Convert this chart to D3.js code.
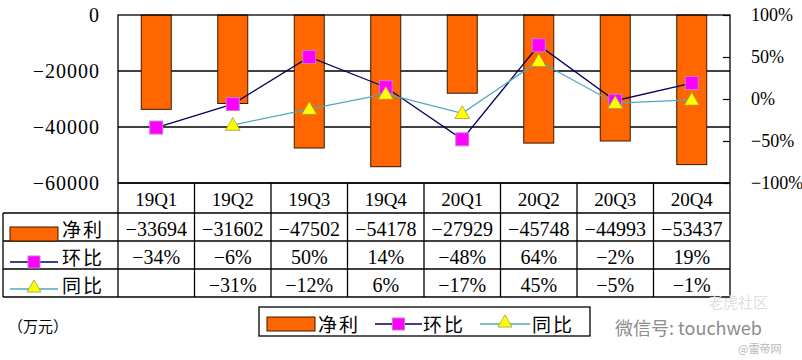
<!DOCTYPE html>
<html><head><meta charset="utf-8">
<script src="https://cdn.jsdelivr.net/npm/d3@7/dist/d3.min.js"></script>
<style>
html,body{margin:0;padding:0;background:#fff;}
svg{display:block;}
.num{font-family:"Liberation Serif","DejaVu Serif",serif;}
.cjk{font-family:"Noto Sans CJK SC","Noto Sans",sans-serif;}
</style>
</head><body>
<svg id="chart" width="802" height="360"></svg>
<script>
// ---- data ----
const categories = ["19Q1","19Q2","19Q3","19Q4","20Q1","20Q2","20Q3","20Q4"];
const netProfit = [-33694,-31602,-47502,-54178,-27929,-45748,-44993,-53437];
const qoq = [-34,-6,50,14,-48,64,-2,19];          // 环比 %
const yoy = [null,-31,-12,6,-17,45,-5,-1];         // 同比 %
const leftTicks = [0,-20000,-40000,-60000];
const rightTicks = [100,50,0,-50,-100];
const rowLabels = ["净利","环比","同比"];
const unitLabel = "（万元）";

// ---- layout ----
const svg = d3.select("#chart");
const L = 118, R = 730, T = 15, B = 183;
const rowH = [30, 28, 28, 28]; // category, 净利, 环比, 同比
const tableLeft = 3;
const fmtMinus = s => String(s).replace("-", "\u2212");

const x = d3.scaleBand().domain(categories).range([L, R]).paddingInner(0).paddingOuter(0);
const yL = d3.scaleLinear().domain([-60000, 0]).range([B, T]);
const yR = d3.scaleLinear().domain([-100, 100]).range([B, T]);

const cNavy = "#000060", cTeal = "#4fa8c0", cOrange = "#ff6600", cBarStroke = "#3a1a00";
const cMag = "#ff00ff", cMagStroke = "#c080d0", cYel = "#ffff00", cYelStroke = "#a0a040";

// gridlines (behind bars)
svg.append("g").selectAll("line").data([-20000,-40000]).join("line")
  .attr("x1", L).attr("x2", R).attr("y1", d => yL(d)).attr("y2", d => yL(d))
  .attr("stroke", "#000").attr("stroke-width", 1.3);

// bars
const bw = 30;
svg.append("g").selectAll("rect").data(netProfit).join("rect")
  .attr("x", (d,i) => x(categories[i]) + x.bandwidth()/2 - bw/2)
  .attr("y", yL(0))
  .attr("width", bw)
  .attr("height", d => yL(d) - yL(0))
  .attr("fill", cOrange).attr("stroke", cBarStroke).attr("stroke-width", 1);

// plot frame
svg.append("rect").attr("x", L).attr("y", T).attr("width", R-L).attr("height", B-T)
  .attr("fill", "none").attr("stroke", "#000").attr("stroke-width", 1.3);

// left axis
const gL = svg.append("g").attr("transform", `translate(${L},0)`)
  .call(d3.axisLeft(yL).tickValues(leftTicks).tickSize(0).tickPadding(18).tickFormat(d => fmtMinus(d)));
gL.select(".domain").remove();
gL.selectAll("text").attr("class","num").attr("font-size", 20).attr("letter-spacing", 1).attr("fill","#000").attr("font-family", null);

// right axis (inside ticks)
const gR = svg.append("g").attr("transform", `translate(${R},0)`)
  .call(d3.axisRight(yR).tickValues(rightTicks).tickSizeInner(-7).tickSizeOuter(0).tickPadding(21)
    .tickFormat(d => fmtMinus(d) + "%"));
gR.select(".domain").remove();
gR.selectAll("line").attr("stroke","#000").attr("stroke-width",1.2);
gR.selectAll("text").attr("class","num").attr("font-size", 18).attr("fill","#000").attr("font-family", null);

// lines
const cx = i => x(categories[i]) + x.bandwidth()/2;
const lineQ = d3.line().defined(d => d != null).x((d,i) => cx(i)).y(d => yR(d));
svg.append("path").datum(qoq).attr("d", lineQ).attr("fill","none").attr("stroke", cNavy).attr("stroke-width", 1.3);
const lineY = d3.line().defined(d => d != null).x((d,i) => cx(i)).y(d => yR(d));
svg.append("path").datum(yoy).attr("d", lineY).attr("fill","none").attr("stroke", cTeal).attr("stroke-width", 1.3);

// markers
const sq = 13;
svg.append("g").selectAll("rect").data(qoq).join("rect")
  .attr("x", (d,i) => cx(i) - sq/2).attr("y", d => yR(d) - sq/2)
  .attr("width", sq).attr("height", sq)
  .attr("fill", cMag).attr("stroke", cMagStroke).attr("stroke-width", 1);
const tri = d3.symbol().type(d3.symbolTriangle).size(95);
svg.append("g").selectAll("path").data(yoy.map((v,i)=>({v,i})).filter(d => d.v != null)).join("path")
  .attr("d", tri)
  .attr("transform", d => `translate(${cx(d.i)},${yR(d.v)+1})`)
  .attr("fill", cYel).attr("stroke", cYelStroke).attr("stroke-width", 0.8);

// ---- data table ----
const yRows = [B];
rowH.forEach(h => yRows.push(yRows[yRows.length-1] + h));
const tb = svg.append("g");
tb.append("line").attr("x1", L).attr("x2", R).attr("y1", yRows[0]).attr("y2", yRows[0]);
for (let r = 1; r < yRows.length; r++) {
  tb.append("line").attr("x1", tableLeft).attr("x2", R).attr("y1", yRows[r]).attr("y2", yRows[r]);
}
const colEdges = categories.map(c => x(c)).concat([R]);
colEdges.forEach(xe => tb.append("line").attr("x1", xe).attr("x2", xe).attr("y1", yRows[0]).attr("y2", yRows[4]));
tb.append("line").attr("x1", tableLeft).attr("x2", tableLeft).attr("y1", yRows[1]).attr("y2", yRows[4]);
tb.selectAll("line").attr("stroke", "#000").attr("stroke-width", 1.3);

tb.append("g").selectAll("text").data(categories).join("text")
  .attr("class","num").attr("x", (d,i) => cx(i)).attr("y", (yRows[0]+yRows[1])/2 + 1)
  .attr("text-anchor","middle").attr("dominant-baseline","central").attr("font-size", 19)
  .text(d => d);
const rowsData = [netProfit.map(v => fmtMinus(v)), qoq.map(v => fmtMinus(v)+"%"), yoy.map(v => v == null ? "" : fmtMinus(v)+"%")];
rowsData.forEach((vals, r) => {
  tb.append("g").selectAll("text").data(vals).join("text")
    .attr("class","num").attr("x", (d,i) => cx(i)).attr("y", (yRows[r+1]+yRows[r+2])/2 + 2)
    .attr("text-anchor","middle").attr("dominant-baseline","central").attr("font-size", 20)
    .text(d => d);
});

function drawKey(g, type, x0, x1, yc) {
  if (type === 0) {
    g.append("rect").attr("x", x0).attr("y", yc - 7).attr("width", x1 - x0).attr("height", 14)
      .attr("fill", cOrange).attr("stroke", cBarStroke).attr("stroke-width", 1);
  } else if (type === 1) {
    g.append("line").attr("x1", x0).attr("x2", x1).attr("y1", yc).attr("y2", yc).attr("stroke", cNavy).attr("stroke-width", 1.3);
    g.append("rect").attr("x", (x0+x1)/2 - 6).attr("y", yc - 6).attr("width", 12).attr("height", 12)
      .attr("fill", cMag).attr("stroke", cMagStroke).attr("stroke-width", 1);
  } else {
    g.append("line").attr("x1", x0).attr("x2", x1).attr("y1", yc).attr("y2", yc).attr("stroke", cTeal).attr("stroke-width", 1.3);
    g.append("path").attr("d", d3.symbol().type(d3.symbolTriangle).size(85))
      .attr("transform", `translate(${(x0+x1)/2},${yc-1})`)
      .attr("fill", cYel).attr("stroke", cYelStroke).attr("stroke-width", 0.8);
  }
}
const keyY = [yRows[2] - 7, yRows[3] - 7, yRows[4] - 8];
rowLabels.forEach((lab, r) => {
  drawKey(tb, r, 10, 58, keyY[r]);
  tb.append("text").attr("class","cjk").attr("x", 62).attr("y", (yRows[r+1]+yRows[r+2])/2 + 1)
    .attr("dominant-baseline","central").attr("font-size", 19).attr("letter-spacing", 2).text(lab);
});

svg.append("text").attr("class","cjk").attr("x", 8).attr("y", 325).attr("dominant-baseline","central")
  .attr("font-size", 15).text(unitLabel);

// ---- legend ----
const lg = svg.append("g");
lg.append("rect").attr("x", 259).attr("y", 307).attr("width", 331).attr("height", 29)
  .attr("fill", "#fff").attr("stroke", "#000").attr("stroke-width", 1.3);
const lgItems = [{x0:267, x1:315, tx:318}, {x0:375, x1:422, tx:423}, {x0:480, x1:530, tx:532}];
lgItems.forEach((it, r) => {
  drawKey(lg, r, it.x0, it.x1, 324);
  lg.append("text").attr("class","cjk").attr("x", it.tx).attr("y", 323).attr("dominant-baseline","central")
    .attr("font-size", 19).attr("letter-spacing", 2).text(rowLabels[r]);
});

// ---- watermark ----
svg.append("text").attr("class","cjk").attr("x", 708).attr("y", 301).attr("dominant-baseline","central")
  .attr("font-size", 15).attr("fill", "#e0e0e0").text("老虎社区");
svg.append("text").attr("class","cjk").attr("x", 615).attr("y", 327).attr("dominant-baseline","central")
  .attr("font-size", 18).attr("fill", "#8c8c8c").text("微信号: touchweb");
svg.append("text").attr("class","cjk").attr("x", 738).attr("y", 348).attr("dominant-baseline","central")
  .attr("font-size", 11).attr("fill", "#b8b8b8").text("@雷帝网");
</script>
</body></html>
